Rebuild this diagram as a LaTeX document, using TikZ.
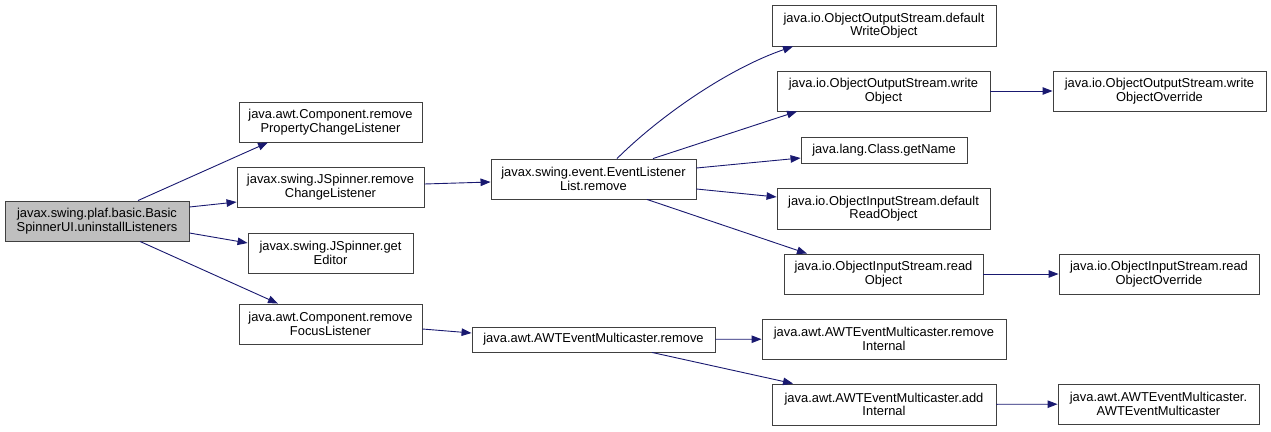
\documentclass[tikz,border=0pt]{standalone}
\usepackage{fontspec}
\setmainfont{Liberation Sans}
\usetikzlibrary{arrows.meta,calc}
\definecolor{edgeblue}{HTML}{191970}
\definecolor{boxline}{HTML}{404040}
\definecolor{rootfill}{HTML}{BFBFBF}
\begin{document}
\begin{tikzpicture}[x=1pt,y=-1pt,
  fn/.style={draw=boxline, line width=0.9pt, fill=white, inner sep=0pt, align=center,
    font=\fontsize{12.9}{13.6}\selectfont, minimum height=40pt},
  rootbox/.style={fn, fill=rootfill},
  edge/.style={draw=edgeblue, line width=0.9pt, -{Triangle[length=10pt,width=7.5pt]}}
]
\useasboundingbox (0,0) rectangle (1271,431);
% nodes
\node[rootbox, minimum width=184pt] (root) at (97,221) {javax.swing.plaf.basic.Basic\\SpinnerUI.uninstallListeners};
\node[fn, minimum width=183pt] (pcl) at (330.5,122) {java.awt.Component.remove\\PropertyChangeListener};
\node[fn, minimum width=187pt] (jsr) at (330.5,187) {javax.swing.JSpinner.remove\\ChangeListener};
\node[fn, minimum width=165pt] (ge) at (330.5,253) {javax.swing.JSpinner.get\\Editor};
\node[fn, minimum width=183pt] (fl) at (330.5,324) {java.awt.Component.remove\\FocusListener};
\node[fn, minimum width=205pt] (ell) at (593.5,179) {javax.swing.event.EventListener\\List.remove};
\node[fn, minimum width=243pt, minimum height=25pt] (amr) at (593.5,339.5) {java.awt.AWTEventMulticaster.remove};
\node[fn, minimum width=224pt, minimum height=41pt] (dwo) at (884,25.5) {java.io.ObjectOutputStream.default\\WriteObject};
\node[fn, minimum width=213pt] (wo) at (883.5,91) {java.io.ObjectOutputStream.write\\Object};
\node[fn, minimum width=213pt] (woo) at (1159.5,91) {java.io.ObjectOutputStream.write\\ObjectOverride};
\node[fn, minimum width=166pt, minimum height=26pt] (gn) at (884,150) {java.lang.Class.getName};
\node[fn, minimum width=213pt, minimum height=41pt] (dro) at (883.5,208.5) {java.io.ObjectInputStream.default\\ReadObject};
\node[fn, minimum width=199pt] (ro) at (883.5,274) {java.io.ObjectInputStream.read\\Object};
\node[fn, minimum width=200pt] (roo) at (1159,274) {java.io.ObjectInputStream.read\\ObjectOverride};
\node[fn, minimum width=244pt] (ri) at (884,339) {java.awt.AWTEventMulticaster.remove\\Internal};
\node[fn, minimum width=224pt, minimum height=41pt] (ai) at (884,404.5) {java.awt.AWTEventMulticaster.add\\Internal};
\node[fn, minimum width=201pt] (ctor) at (1158.5,404) {java.awt.AWTEventMulticaster.\\AWTEventMulticaster};
% edges
\draw[edge] ($(root.north)+(41,0)$) -- ($(pcl.south)+(-62.5,0)$);
\draw[edge] ($(root.east)+(0,-14)$) -- ($(jsr.west)+(0,15)$);
\draw[edge] ($(root.east)+(0,12)$) -- ($(ge.west)+(0,-10)$);
\draw[edge] ($(root.south)+(43,0)$) -- ($(fl.north)+(-52.5,0)$);
\draw[edge] ($(jsr.east)+(0,-3)$) -- ($(ell.west)+(0,3)$);
\draw[edge] ($(fl.east)+(0,5)$) -- ($(amr.west)+(0,-6.5)$);
\draw[edge] ($(ell.north)+(23.5,0)$) .. controls (662,114) and (730,68) .. ($(dwo.south)+(-91,0)$);
\draw[edge] ($(ell.north)+(59.5,0)$) -- ($(wo.south)+(-86.5,0)$);
\draw[edge] ($(ell.east)+(0,-11)$) -- ($(gn.west)+(0,8)$);
\draw[edge] ($(ell.east)+(0,10)$) -- ($(dro.west)+(0,-11.5)$);
\draw[edge] ($(ell.south)+(53.5,0)$) -- ($(ro.north)+(-76.5,0)$);
\draw[edge] (wo) -- (woo);
\draw[edge] (ro) -- (roo);
\draw[edge] (amr) -- (ri);
\draw[edge] ($(amr.south)+(58.5,0)$) -- ($(ai.north)+(-91,0)$);
\draw[edge] (ai) -- (ctor);
\end{tikzpicture}
\end{document}
